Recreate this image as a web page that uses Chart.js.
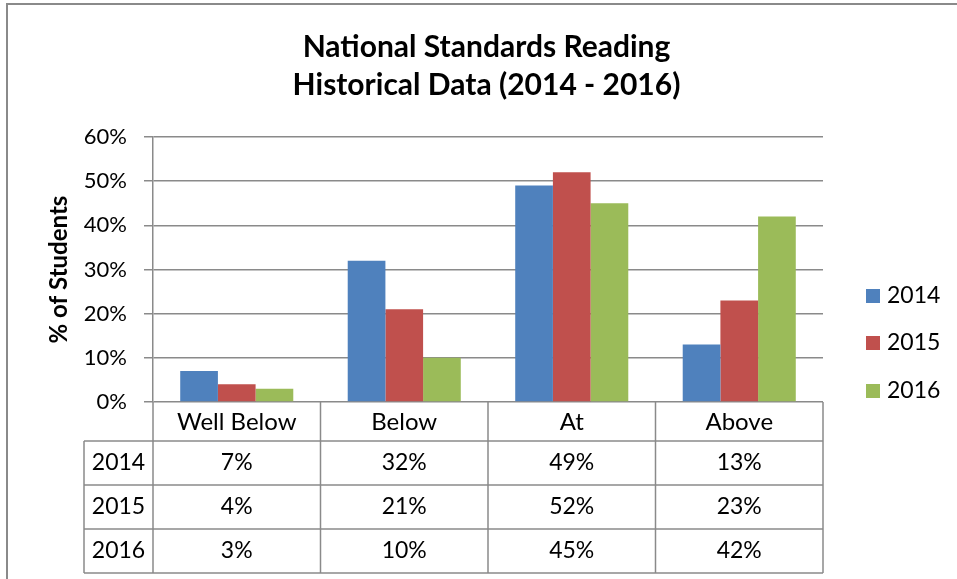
<!DOCTYPE html>
<html><head><meta charset="utf-8">
<script src="https://cdn.jsdelivr.net/npm/chart.js@4.4.0/dist/chart.umd.min.js"></script>
<style>html,body{margin:0;padding:0;background:#fff;overflow:hidden}#wrap{width:957px;height:579px;position:relative}canvas{display:block}</style>
</head><body><div id="wrap"><canvas id="c" width="957" height="579"></canvas></div>
<script>
const categories = ['Well Below', 'Below', 'At', 'Above'];
const years = ['2014', '2015', '2016'];
const values2014 = [7, 32, 49, 13];
const values2015 = [4, 21, 52, 23];
const values2016 = [3, 10, 45, 42];
const yTickValues = [0, 10, 20, 30, 40, 50, 60];
const seriesColors = ['#4F81BD', '#C0504D', '#9BBB59'];
const titleLines = ['National Standards Reading', 'Historical Data (2014 - 2016)'];
const yTitle = '% of Students';

const GRID = '#8a8a8a';
const FONT = 'Lato';

const tablePlugin = {
  id: 'tableAndLegend',
  beforeDraw(chart) {
    const ctx = chart.ctx;
    ctx.save();
    ctx.strokeStyle = '#8a8a8a';
    ctx.lineWidth = 2;
    ctx.beginPath();
    ctx.moveTo(7, 579); ctx.lineTo(7, 4); ctx.lineTo(957, 4);
    ctx.stroke();
    ctx.restore();
  },
  afterDraw(chart) {
    const x = chart.scales.x, ca = chart.chartArea, ctx = chart.ctx;
    const n = chart.data.labels.length, cw = (x.right - x.left) / n;
    const headTop = ca.bottom, headBot = ca.bottom + 39, rowH = 44, labelLeft = 84;
    const rows = chart.data.datasets;
    const bottom = headBot + rowH * rows.length;
    ctx.save();
    ctx.strokeStyle = GRID; ctx.lineWidth = 1.5;
    ctx.beginPath();
    for (let i = 0; i <= n; i++) { const bx = x.left + i * cw; ctx.moveTo(bx, headTop); ctx.lineTo(bx, bottom); }
    ctx.moveTo(labelLeft, headBot); ctx.lineTo(labelLeft, bottom);
    for (let r = 0; r <= rows.length; r++) { const y = headBot + r * rowH; ctx.moveTo(labelLeft, y); ctx.lineTo(x.right, y); }
    ctx.stroke();
    ctx.fillStyle = '#000'; ctx.font = '23px ' + FONT; ctx.textAlign = 'center'; ctx.textBaseline = 'middle';
    rows.forEach((ds, r) => {
      const cy = headBot + r * rowH + rowH / 2;
      ctx.fillText(ds.label, (labelLeft + x.left) / 2, cy);
      ds.data.forEach((v, i) => ctx.fillText(v + '%', x.getPixelForValue(i), cy));
    });
    // legend
    const lx = 866, ly = [296, 343, 391];
    ctx.textAlign = 'left';
    rows.forEach((ds, r) => {
      ctx.fillStyle = ds.backgroundColor;
      ctx.fillRect(lx, ly[r] - 7, 14, 14);
      ctx.fillStyle = '#000';
      ctx.fillText(ds.label, lx + 21, ly[r]);
    });
    ctx.restore();
  }
};

new Chart(document.getElementById('c'), {
  type: 'bar',
  data: {
    labels: categories,
    datasets: [
      { label: years[0], data: values2014, backgroundColor: seriesColors[0] },
      { label: years[1], data: values2015, backgroundColor: seriesColors[1] },
      { label: years[2], data: values2016, backgroundColor: seriesColors[2] }
    ]
  },
  options: {
    responsive: false,
    animation: false,
    layout: { padding: { left: 16, right: 0, top: 0, bottom: 0 } },
    datasets: { bar: { categoryPercentage: 0.675, barPercentage: 1.0, borderWidth: 0 } },
    plugins: {
      legend: { display: false },
      tooltip: { enabled: false },
      title: {
        display: true, text: titleLines, color: '#000',
        font: { family: FONT, size: 30, weight: 'bold', lineHeight: 1.267 },
        padding: { top: 28, bottom: 33 }
      }
    },
    scales: {
      x: {
        grid: { display: false, drawTicks: false },
        border: { display: false },
        ticks: { color: '#000', font: { family: FONT, size: 24 }, padding: 6, maxRotation: 0 },
        afterFit(s) { s.height = 177; }
      },
      y: {
        min: yTickValues[0], max: yTickValues[yTickValues.length - 1],
        afterBuildTicks(s) { s.ticks = yTickValues.map(v => ({ value: v })); },
        grid: { color: GRID, lineWidth: 1.5, tickLength: 9, drawTicks: true },
        border: { display: true, color: GRID, width: 1.5 },
        ticks: { color: '#000', font: { family: FONT, size: 22 }, padding: 17, callback: v => v + '%' },
        title: { display: true, text: yTitle, color: '#000', font: { family: FONT, size: 24, weight: 'bold' }, padding: { top: 29, bottom: 0 } },
        afterFit(s) { s.width = 137; }
      },
      legendSpace: {
        type: 'linear', position: 'right', display: true,
        grid: { display: false, drawTicks: false }, border: { display: false },
        ticks: { display: false },
        afterFit(s) { s.width = 134; }
      }
    }
  },
  plugins: [tablePlugin]
});
</script>
</body></html>
